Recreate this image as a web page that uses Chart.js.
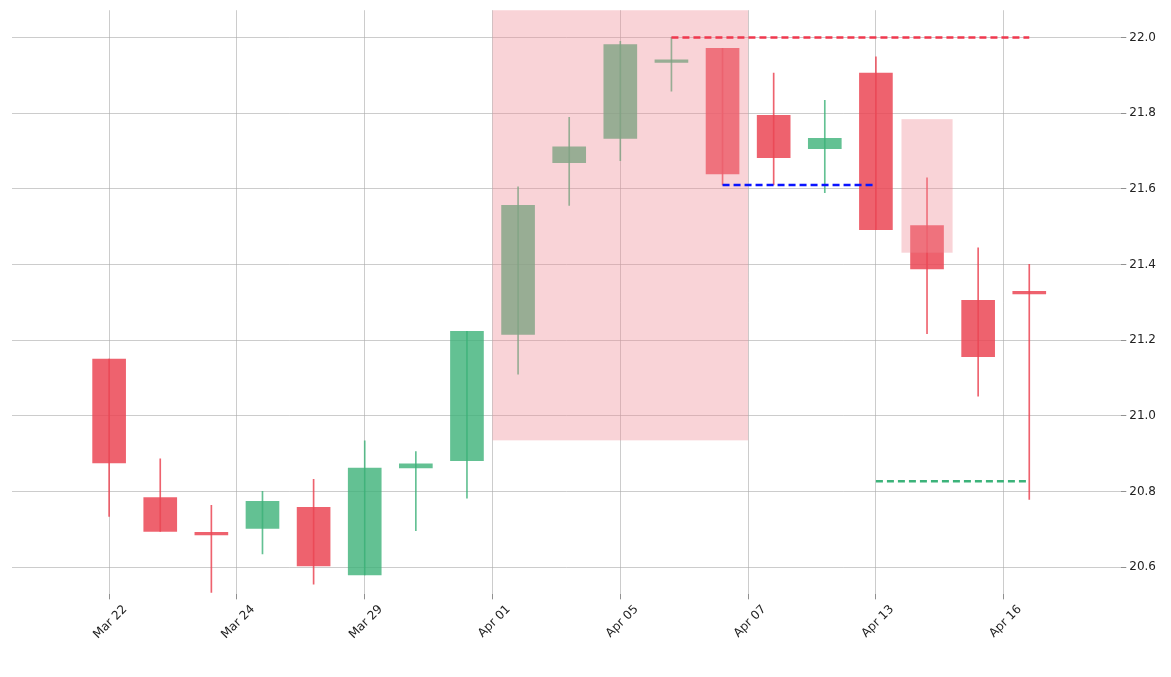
<!DOCTYPE html>
<html><head><meta charset="utf-8">
<script src="https://cdn.jsdelivr.net/npm/chart.js@4"></script>
<style>html,body{margin:0;padding:0;background:#fff}#w{width:1171px;height:677px}</style>
</head><body><div id="w"><canvas id="c"></canvas></div>
<script>
const tickPos = [0,2.5,5,7.5,10,12.5,15,17.5];
const tickLabels = ['Mar 22','Mar 24','Mar 29','Apr 01','Apr 05','Apr 07','Apr 13','Apr 16'];
const opens  = [21.15,20.784,20.688,20.702,20.758,20.579,20.862,20.881,21.215,21.669,21.733,21.934,21.971,21.794,21.706,21.906,21.503,21.305,21.327];
const closes = [20.875,20.694,20.685,20.774,20.603,20.862,20.873,21.223,21.556,21.711,21.981,21.937,21.639,21.682,21.733,21.492,21.388,21.156,21.322];
const highs  = [21.15,20.886,20.763,20.80,20.832,20.934,20.905,21.223,21.605,21.789,21.99,22.0,21.971,21.906,21.834,21.949,21.629,21.444,21.40];
const lows   = [20.734,20.694,20.533,20.635,20.555,20.579,20.696,20.782,21.11,21.556,21.674,21.858,21.61,21.61,21.59,21.492,21.217,21.052,20.779];
const zones = [[7.5,12.5,20.935,22.1],[15.5,16.5,21.431,21.784]];
const levels = [[11,18,22.0,'#f0384e'],[12,15,21.61,'#0a14ff'],[15,18,20.827,'#3cb37a']];
const RED='rgba(235,70,85,0.85)', GREEN='rgba(60,178,120,0.8)';
const col = opens.map((o,i)=>closes[i]>=o?GREEN:RED);
const zonePlugin={id:'zones',
 afterDatasetsDraw(ch){const {ctx,scales:{x,y},chartArea:a}=ch;ctx.save();
 ctx.beginPath();ctx.rect(a.left,a.top,a.width,a.height);ctx.clip();
 ctx.fillStyle='rgba(240,140,150,0.38)';
 zones.forEach(z=>{const x0=x.getPixelForValue(z[0]),x1=x.getPixelForValue(z[1]),y0=y.getPixelForValue(z[3]),y1=y.getPixelForValue(z[2]);ctx.fillRect(x0,y0,x1-x0,y1-y0);});
 ctx.lineWidth=2.5;ctx.setLineDash([7,4]);
 levels.forEach(l=>{ctx.strokeStyle=l[3];ctx.beginPath();const yy=y.getPixelForValue(l[2]);ctx.moveTo(x.getPixelForValue(l[0]),yy);ctx.lineTo(x.getPixelForValue(l[1]),yy);ctx.stroke();});ctx.restore();}};
new Chart(document.getElementById('c'),{type:'bar',
 data:{datasets:[
  {data:highs.map((h,i)=>({x:i,y:[lows[i],h]})),backgroundColor:col,barThickness:1,grouped:false,order:2},
  {data:opens.map((o,i)=>({x:i,y:[o,closes[i]]})),backgroundColor:col,barThickness:33,minBarLength:2.5,grouped:false,order:1}
 ]},
 plugins:[zonePlugin],
 options:{responsive:true,maintainAspectRatio:false,animation:false,
  layout:{padding:{left:12,right:12,top:10,bottom:32}},
  plugins:{legend:{display:false},tooltip:{enabled:false}},
  scales:{
   x:{type:'linear',min:-1.9,max:19.8,offset:false,
     afterBuildTicks(ax){ax.ticks=tickPos.map(v=>({value:v}));},
     ticks:{callback:(v)=>{const i=tickPos.indexOf(v);return i>=0?tickLabels[i]:'';},maxRotation:45,minRotation:45,labelOffset:16,color:'#222',font:{family:'DejaVu Sans',size:12}},
     grid:{offset:false,color:'#aaa',lineWidth:0.6,tickLength:5,tickColor:'#444'},border:{display:false}},
   y:{position:'right',min:20.528,max:22.072,
     afterBuildTicks(ax){ax.ticks=[20.6,20.8,21.0,21.2,21.4,21.6,21.8,22.0].map(v=>({value:v}));},
     ticks:{callback:v=>v.toFixed(1),color:'#222',font:{family:'DejaVu Sans',size:12}},
     grid:{color:'#aaa',lineWidth:0.6,tickLength:5,tickColor:'#444'},border:{display:false}}
  }}});
</script></body></html>
